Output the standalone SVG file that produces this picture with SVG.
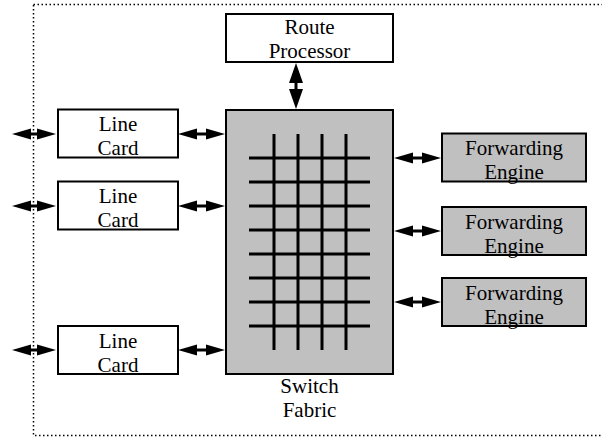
<svg xmlns="http://www.w3.org/2000/svg" width="602" height="438" viewBox="0 0 602 438">
<defs>
<style>
.box{fill:#fff;stroke:#000;stroke-width:2}
.gbox{fill:#c0c0c0;stroke:#000;stroke-width:2}
.t{font-family:"Liberation Serif","Times New Roman",serif;font-size:21px;fill:#000;text-anchor:middle}
.c{stroke:#000;stroke-width:3;fill:none;marker-start:url(#ah);marker-end:url(#ah)}
.cv{stroke:#000;stroke-width:3;fill:none;marker-start:url(#av);marker-end:url(#av)}
.g{stroke:#000;stroke-width:3}
</style>
<marker id="ah" markerUnits="userSpaceOnUse" markerWidth="21" markerHeight="12" refX="1" refY="6" orient="auto-start-reverse">
<path d="M0,0.5 L19,6 L0,11.5 Z" fill="#000"/>
</marker>
<marker id="av" markerUnits="userSpaceOnUse" markerWidth="21" markerHeight="14" refX="1" refY="7" orient="auto-start-reverse">
<path d="M0,0 L20,7 L0,14 Z" fill="#000"/>
</marker>
</defs>
<rect x="33.5" y="4.5" width="580" height="431" fill="none" stroke="#000" stroke-width="1.5" stroke-dasharray="1.5,2.5"/>
<g id="route-processor">
<rect class="box" x="226" y="14" width="167" height="48"/>
<text class="t" x="309.5" y="34">Route</text>
<text class="t" x="309.5" y="58">Processor</text>
</g>
<g id="switch-fabric">
<rect class="gbox" x="226" y="110" width="167" height="264"/>
<g class="g">
<line x1="274" y1="134" x2="274" y2="350"/>
<line x1="298" y1="134" x2="298" y2="350"/>
<line x1="322" y1="134" x2="322" y2="350"/>
<line x1="346" y1="134" x2="346" y2="350"/>
<line x1="249" y1="158" x2="370" y2="158"/>
<line x1="249" y1="182" x2="370" y2="182"/>
<line x1="249" y1="206" x2="370" y2="206"/>
<line x1="249" y1="230" x2="370" y2="230"/>
<line x1="249" y1="254" x2="370" y2="254"/>
<line x1="249" y1="278" x2="370" y2="278"/>
<line x1="249" y1="302" x2="370" y2="302"/>
<line x1="249" y1="326" x2="370" y2="326"/>
</g>
<text class="t" x="309.5" y="393">Switch</text>
<text class="t" x="309.5" y="417">Fabric</text>
</g>
<g id="line-card-1">
<rect class="box" x="58" y="109.5" width="120" height="48"/>
<text class="t" x="118" y="131">Line</text>
<text class="t" x="118" y="155">Card</text>
</g>
<g id="line-card-2">
<rect class="box" x="58" y="181.5" width="120" height="48"/>
<text class="t" x="118" y="203">Line</text>
<text class="t" x="118" y="227">Card</text>
</g>
<g id="line-card-3">
<rect class="box" x="58" y="326" width="120" height="48"/>
<text class="t" x="118" y="347.5">Line</text>
<text class="t" x="118" y="371.5">Card</text>
</g>
<g id="forwarding-engine-1">
<rect class="gbox" x="442" y="133.5" width="144" height="48"/>
<text class="t" x="514" y="155">Forwarding</text>
<text class="t" x="514" y="179">Engine</text>
</g>
<g id="forwarding-engine-2">
<rect class="gbox" x="442" y="207" width="144" height="48"/>
<text class="t" x="514" y="228.5">Forwarding</text>
<text class="t" x="514" y="252.5">Engine</text>
</g>
<g id="forwarding-engine-3">
<rect class="gbox" x="442" y="278" width="144" height="48"/>
<text class="t" x="514" y="299.5">Forwarding</text>
<text class="t" x="514" y="323.5">Engine</text>
</g>
<g id="connectors">
<line class="cv" x1="296" y1="82" x2="296" y2="90"/>
<line class="c" x1="30" y1="134" x2="38" y2="134"/>
<line class="c" x1="30" y1="206" x2="38" y2="206"/>
<line class="c" x1="30" y1="350" x2="38" y2="350"/>
<line class="c" x1="196" y1="134" x2="207" y2="134"/>
<line class="c" x1="196" y1="206" x2="207" y2="206"/>
<line class="c" x1="196" y1="350" x2="207" y2="350"/>
<line class="c" x1="412" y1="158" x2="423" y2="158"/>
<line class="c" x1="412" y1="231" x2="423" y2="231"/>
<line class="c" x1="412" y1="302" x2="423" y2="302"/>
</g>
</svg>
